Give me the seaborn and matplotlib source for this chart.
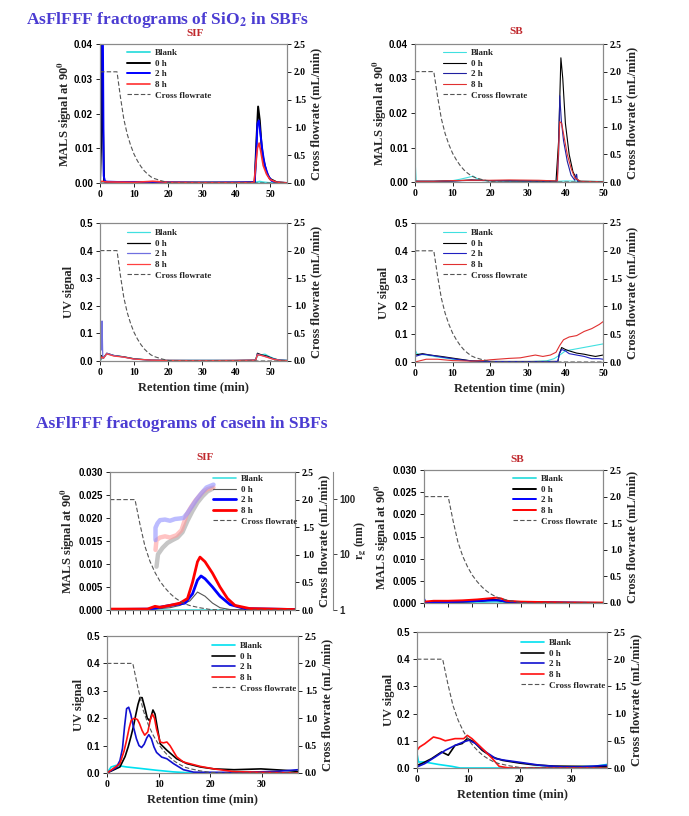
import numpy as np
import pandas as pd
import seaborn as sns
import matplotlib.pyplot as plt
import matplotlib.ticker as mtick

sns.set_style("ticks")
plt.rcParams["font.family"] = ["Liberation Serif", "DejaVu Serif"]
plt.rcParams["font.weight"] = "bold"
plt.rcParams["axes.labelweight"] = "bold"
plt.rcParams["mathtext.fontset"] = "stix"

W, H = 689, 816

# cross flow programme (mL/min), shared by all panels
flow_t = [0, 5, 6, 7, 8, 9, 10, 11, 12, 13, 14, 15, 16, 18, 20, 22, 60]
flow_y = [2.0, 2.0, 1.55, 1.15, 0.88, 0.68, 0.52, 0.40, 0.30, 0.22, 0.16, 0.11, 0.08, 0.04, 0.01, 0.0, 0.0]

# SiO2 in SIF, MALS
sio2_sif_mals_blank_t = [0, 1, 45, 46, 47, 48, 50, 55]
sio2_sif_mals_blank = [0, 0.0002, 0.0001, 0.0002, 0.0004, 0.0002, 0, 0]
sio2_sif_mals_0h_t = [0, 0.3, 0.5, 0.8, 1.2, 2, 10, 20, 30, 40, 45.5, 46, 46.5, 47, 47.5, 48, 49, 50, 52, 55]
sio2_sif_mals_0h = [0, 0.01, 0.045, 0.02, 0.0005, 0.0003, 0.0002, 0.0001, 0.0001, 0.0001, 0.0002, 0.012, 0.022,
                    0.018, 0.011, 0.007, 0.003, 0.0012, 0.0002, 0]
sio2_sif_mals_2h_t = [0, 0.3, 0.5, 0.8, 1.1, 1.5, 5, 14, 17, 20, 30, 45.5, 46, 46.3, 46.7, 47.2, 47.8, 48.5, 49.5,
                      50.5, 52, 55]
sio2_sif_mals_2h = [0, 0.05, 0.05, 0.05, 0.002, 0.0004, 0.0003, 0.0003, 0.0003, 0.0002, 0.0001, 0.0002, 0.009,
                    0.017, 0.018, 0.014, 0.009, 0.005, 0.002, 0.0006, 0.0001, 0]
sio2_sif_mals_8h_t = [0, 0.5, 1, 2, 10, 14, 15.5, 17, 20, 30, 45.3, 45.6, 46.3, 46.8, 47.3, 48, 49, 50, 52, 55]
sio2_sif_mals_8h = [0, 0.0005, 0.0004, 0.0003, 0.0002, 0.0004, 0.0005, 0.0004, 0.0002, 0.0001, 0.0001, 0.003,
                    0.01, 0.0115, 0.009, 0.005, 0.0025, 0.001, 0.0002, 0]

# SiO2 in SB, MALS
sio2_sb_mals_blank_t = [0, 0.1, 0.3, 1, 5, 10, 12, 14, 15.5, 16.5, 18, 25, 35, 38, 40, 45, 50]
sio2_sb_mals_blank = [0.005, 0.005, 0.0003, 0.0002, 0.0002, 0.0004, 0.0008, 0.0013, 0.0017, 0.001, 0.0004,
                      0.0002, 0.0002, 0.0002, 0.0003, 0.0002, 0.0002]
sio2_sb_mals_0h_t = [0, 5, 10, 15, 20, 30, 37.5, 38.2, 38.8, 39.3, 40, 41, 42, 43, 44, 50]
sio2_sb_mals_0h = [0.0002, 0.0002, 0.0003, 0.0006, 0.0004, 0.0003, 0.0002, 0.012, 0.036, 0.03, 0.017, 0.008,
                   0.003, 0.0008, 0.0002, 0.0001]
sio2_sb_mals_2h_t = [0, 5, 10, 15, 20, 30, 37.8, 38.2, 38.5, 38.9, 39.5, 40.5, 41.5, 42.5, 42.9, 43, 43.2, 44, 50]
sio2_sb_mals_2h = [0.0002, 0.0002, 0.0003, 0.0005, 0.0004, 0.0003, 0.0002, 0.008, 0.025, 0.018, 0.012, 0.006,
                   0.002, 0.0005, 0.0022, 0.0022, 0.0002, 0.0001, 0.0001]
sio2_sb_mals_8h_t = [0, 5, 10, 15, 20, 25, 33, 37.9, 38, 38.5, 39, 39.5, 40.5, 41.5, 42.5, 44, 50]
sio2_sb_mals_8h = [0.0002, 0.0002, 0.0004, 0.0005, 0.0005, 0.0006, 0.0005, 0.0003, 0.005, 0.0175, 0.017, 0.014,
                   0.008, 0.004, 0.0012, 0.0002, 0.0001]

# SiO2 in SIF, UV
sio2_sif_uv_blank_t = [0, 1, 2, 4, 7, 10, 15, 20, 30, 40, 45.5, 46.5, 48.5, 50, 52, 55]
sio2_sif_uv_blank = [0, 0.015, 0.025, 0.02, 0.015, 0.008, 0.003, 0.002, 0.002, 0.002, 0.003, 0.02, 0.025, 0.015,
                     0.005, 0.002]
sio2_sif_uv_0h_t = [0, 0.5, 1, 2, 4, 7, 10, 15, 20, 30, 40, 45.8, 46.3, 47.5, 49, 51, 53, 55]
sio2_sif_uv_0h = [0, 0.02, 0.01, 0.028, 0.02, 0.015, 0.008, 0.003, 0.002, 0.002, 0.002, 0.003, 0.028, 0.022,
                  0.018, 0.008, 0.003, 0.002]
sio2_sif_uv_2h_t = [0, 0.3, 0.45, 0.6, 0.8, 1, 2, 4, 7, 10, 15, 20, 30, 40, 45.8, 46.3, 47.5, 49, 51, 53, 55]
sio2_sif_uv_2h = [0, 0.09, 0.04, 0.145, 0.02, 0.01, 0.028, 0.02, 0.014, 0.007, 0.003, 0.002, 0.002, 0.002, 0.003,
                  0.025, 0.02, 0.015, 0.007, 0.003, 0.002]
sio2_sif_uv_8h_t = [0, 0.5, 1, 2, 4, 7, 10, 15, 20, 30, 40, 45.8, 46.3, 47.5, 49, 51, 53, 55]
sio2_sif_uv_8h = [0, 0.015, 0.01, 0.026, 0.018, 0.014, 0.007, 0.003, 0.002, 0.001, 0.002, 0.003, 0.022, 0.02,
                  0.014, 0.006, 0.002, 0.001]

# SiO2 in SB, UV
sio2_sb_uv_blank_t = [0, 0.5, 1, 3, 6, 10, 15, 20, 30, 35, 37, 38.5, 40, 44, 48, 50]
sio2_sb_uv_blank = [0.045, 0.03, 0.028, 0.025, 0.018, 0.01, 0.004, 0.001, 0.001, 0.004, 0.012, 0.025, 0.04, 0.05,
                    0.06, 0.065]
sio2_sb_uv_0h_t = [0, 2, 4, 7, 10, 12, 15, 20, 30, 38, 38.4, 39, 40, 41, 43, 45, 46, 48, 50]
sio2_sb_uv_0h = [0.025, 0.03, 0.025, 0.02, 0.014, 0.01, 0.004, 0.002, 0.002, 0.002, 0.03, 0.052, 0.045, 0.04,
                 0.032, 0.028, 0.025, 0.02, 0.025]
sio2_sb_uv_2h_t = [0, 2, 4, 7, 10, 12, 15, 20, 30, 38, 38.4, 39, 40, 41, 43, 45, 47, 49, 50]
sio2_sb_uv_2h = [0.02, 0.028, 0.025, 0.018, 0.012, 0.008, 0.004, 0.002, 0.001, 0.002, 0.03, 0.045, 0.04, 0.03,
                 0.025, 0.02, 0.012, 0.012, 0.01]
sio2_sb_uv_8h_t = [0, 3, 6, 10, 15, 18, 20, 22, 25, 28, 30, 32, 34, 36, 37.5, 38.5, 39.5, 41, 43, 45, 47, 49, 50]
sio2_sb_uv_8h = [0, 0.01, 0.01, 0.005, 0.003, 0.005, 0.008, 0.01, 0.013, 0.015, 0.02, 0.025, 0.02, 0.025, 0.035,
                 0.06, 0.08, 0.09, 0.095, 0.11, 0.12, 0.135, 0.145]

# casein in SIF, MALS
cas_sif_mals_blank_t = [0, 10, 20, 30, 37]
cas_sif_mals_blank = [0.0001, 0.0001, 0.0001, 0.0001, 0.0001]
cas_sif_mals_0h_t = [0, 9, 12, 14, 16, 17.5, 19, 20.5, 22, 24, 37]
cas_sif_mals_0h = [0.0001, 0.0002, 0.0005, 0.001, 0.002, 0.0039, 0.003, 0.0015, 0.0005, 0.0001, 0]
cas_sif_mals_2h_t = [0, 8, 9.5, 12, 15, 16.5, 17.5, 18.2, 19, 20.5, 22, 24, 27, 37]
cas_sif_mals_2h = [0.0001, 0.0002, 0.0005, 0.001, 0.0015, 0.0035, 0.0065, 0.0074, 0.0068, 0.005, 0.003, 0.0012,
                   0.0003, 0.0001]
cas_sif_mals_8h_t = [0, 7.5, 9, 10, 12, 14, 15.5, 16.5, 17.5, 18, 19, 20.5, 22, 23.5, 25, 28, 37]
cas_sif_mals_8h = [0.0002, 0.0002, 0.0008, 0.0006, 0.001, 0.0015, 0.0025, 0.006, 0.0105, 0.0115, 0.0105, 0.008,
                   0.005, 0.0025, 0.001, 0.0003, 0.0001]

# radius of gyration (nm) in SIF
rg_0h_t = [9.3, 9.6, 10.5, 11.5, 12.5, 13.5, 14.5, 15.5, 16.5, 17.5, 18.5, 19.5, 20.5]
rg_0h = [6, 10, 13, 16, 18, 20, 25, 40, 60, 85, 110, 135, 150]
rg_2h_t = [9.1, 9.1, 9.5, 10, 11, 12, 13, 14, 14.7, 15.5, 16.5, 17.3, 18.3, 19.3, 20.7]
rg_2h = [18, 30, 36, 41, 42, 40, 43, 44, 45, 55, 75, 96, 125, 158, 178]
rg_8h_t = [9.1, 9.3, 10, 11, 12, 13.3, 14.3, 15.3, 16.2, 17, 18, 18.7, 19.5, 20.7]
rg_8h = [12, 18, 20, 21, 20, 22, 27, 51, 70, 90, 115, 135, 148, 158]

# casein in SB, MALS
cas_sb_mals_blank_t = [0, 0.2, 2, 8, 12, 15, 17, 20, 37]
cas_sb_mals_blank = [0.0008, 0.0001, 0.0001, 0.0002, 0.0002, 0.0003, 0.0001, 0, 0]
cas_sb_mals_0h_t = [0, 3, 8, 12, 14, 15.5, 17, 20, 25, 37]
cas_sb_mals_0h = [0.0002, 0.0002, 0.0003, 0.0005, 0.0008, 0.0006, 0.0003, 0.0002, 0.0001, 0]
cas_sb_mals_2h_t = [0, 0.3, 1, 5, 10, 14, 15.5, 17, 20, 30, 37]
cas_sb_mals_2h = [0.001, 0.0002, 0.0001, 0.0002, 0.0004, 0.0006, 0.0006, 0.0003, 0.0002, 0.0001, 0]
cas_sb_mals_8h_t = [0, 2, 5, 8, 11, 13, 15, 16, 17, 20, 25, 30, 37]
cas_sb_mals_8h = [0.0003, 0.0005, 0.0005, 0.0006, 0.0008, 0.001, 0.0012, 0.001, 0.0005, 0.0003, 0.0002, 0.0001,
                  0.0001]

# casein in SIF, UV
cas_sif_uv_blank_t = [0, 0.8, 1.8, 3.8, 6.3, 9.6, 12.9, 16.5, 37]
cas_sif_uv_blank = [0, 0.022, 0.028, 0.022, 0.017, 0.01, 0.004, 0, 0]
cas_sif_uv_0h_t = [0, 2.5, 3.5, 4.1, 4.6, 5.1, 5.6, 6.0, 6.4, 6.8, 7.3, 7.8, 8.3, 8.9, 9.3, 9.8, 10.3, 11.6, 13.5,
                   15.5, 18.1, 20.7, 24.6, 29.8, 34.3, 36.9]
cas_sif_uv_0h = [0, 0.022, 0.06, 0.095, 0.13, 0.168, 0.215, 0.25, 0.275, 0.275, 0.24, 0.2, 0.19, 0.23, 0.215,
                 0.16, 0.107, 0.083, 0.052, 0.034, 0.022, 0.015, 0.012, 0.015, 0.01, 0.006]
cas_sif_uv_2h_t = [0, 1.8, 2.5, 3.0, 3.4, 3.8, 4.2, 4.6, 5.1, 5.7, 6.2, 6.7, 7.2, 7.7, 8.1, 8.6, 9.1, 9.6, 10.6, 11.6,
                   12.9, 14.8, 16.8, 25, 33, 37]
cas_sif_uv_2h = [0, 0.02, 0.045, 0.09, 0.17, 0.235, 0.24, 0.215, 0.17, 0.125, 0.1, 0.093, 0.105, 0.128, 0.14,
                 0.125, 0.095, 0.075, 0.058, 0.052, 0.034, 0.012, 0.003, 0.002, 0.006, 0.012]
cas_sif_uv_8h_t = [0, 2.5, 3.3, 3.8, 4.3, 4.7, 5.3, 5.9, 6.3, 6.8, 7.3, 7.9, 8.4, 8.8, 9.2, 9.6, 10.3, 10.9, 11.6,
                   12.2, 13.5, 14.8, 18.1, 20.7, 24.6, 31, 37]
cas_sif_uv_8h = [0, 0.034, 0.08, 0.12, 0.165, 0.193, 0.2, 0.195, 0.18, 0.155, 0.138, 0.15, 0.195, 0.215, 0.2,
                 0.16, 0.113, 0.11, 0.113, 0.1, 0.059, 0.04, 0.024, 0.015, 0.005, 0.002, 0]

# casein in SB, UV
cas_sb_uv_blank_t = [0, 0.3, 1.5, 4.2, 6.8, 8.4, 20, 34.5, 37]
cas_sb_uv_blank = [0.053, 0.022, 0.022, 0.013, 0.006, 0, 0, 0.006, 0.013]
cas_sb_uv_0h_t = [0, 0.9, 2.8, 4.8, 6.1, 7.4, 8.8, 9.8, 11.1, 12.7, 14.7, 16.7, 20, 22.6, 26.6, 31.8, 37]
cas_sb_uv_0h = [0.01, 0.016, 0.034, 0.059, 0.047, 0.083, 0.09, 0.108, 0.096, 0.065, 0.04, 0.028, 0.018, 0.012,
                0.007, 0.006, 0.004]
cas_sb_uv_2h_t = [0, 1.5, 3.5, 5.5, 7.4, 9.1, 10.1, 11.4, 13.4, 15.4, 17.3, 20, 24, 28.5, 31.8, 37]
cas_sb_uv_2h = [0.004, 0.016, 0.04, 0.065, 0.083, 0.096, 0.102, 0.09, 0.059, 0.034, 0.028, 0.021, 0.01, 0.004,
                0.004, 0.01]
cas_sb_uv_8h_t = [0, 0.5, 1.5, 3.2, 4.5, 5.5, 7.4, 9.1, 9.8, 10.7, 12.1, 13.4, 14.7, 16, 18, 37]
cas_sb_uv_8h = [0.065, 0.077, 0.089, 0.114, 0.108, 0.1, 0.108, 0.108, 0.12, 0.108, 0.083, 0.059, 0.034, 0.006, 0,
                0]

labels = ["Blank", "0 h", "2 h", "8 h"]
GRID = "#8a8a8a"


def rect(l, r, t, b):
    return [l / W, 1 - b / H, (r - l) / W, (b - t) / H]


def panel(pos, curves, colors, lws, xmax, ymax, ystep, yfmt, ylabel, leg_xy, lpad=2, xlabels=True, xminor=None):
    ax = fig.add_axes(rect(*pos))
    for (t, y), c, lw in zip(curves, colors, lws):
        sns.lineplot(x=t, y=y, ax=ax, color=c, lw=lw, estimator=None, sort=False)
    handles = list(ax.lines)
    ax2 = ax.twinx()
    sns.lineplot(x=flow_t, y=flow_y, ax=ax2, color="#555555", lw=0.8, ls=(0, (4, 2)), estimator=None, sort=False)
    handles.append(ax2.lines[-1])

    ax.set_xlim(0, xmax)
    ax.set_ylim(0, ymax)
    ax.yaxis.set_major_locator(mtick.MultipleLocator(ystep))
    ax.yaxis.set_major_formatter(mtick.FormatStrFormatter(yfmt))
    ax2.set_ylim(0, 2.5)
    ax2.yaxis.set_major_locator(mtick.MultipleLocator(0.5))
    ax2.yaxis.set_major_formatter(mtick.FormatStrFormatter("%.1f"))
    ax.xaxis.set_major_locator(mtick.MultipleLocator(10))
    if not xlabels:
        ax.xaxis.set_major_locator(mtick.MultipleLocator(xminor))
        ax.set_xticklabels([])
        ax.tick_params(axis="x", length=2)
    ax.set_ylabel(ylabel, fontsize=9, labelpad=lpad)
    ax2.set_ylabel("Cross flowrate (mL/min)", fontsize=9, labelpad=3)
    for a in (ax, ax2):
        a.tick_params(direction="out", length=3, width=0.6, labelsize=7, pad=2, colors="black")
        for s in a.spines.values():
            s.set_color(GRID)
            s.set_linewidth(0.8)
    ax.tick_params(axis="y", labelfontfamily="Liberation Sans")
    ax.set_xlabel("")

    ax2.legend(handles, labels + ["Cross flowrate"], loc="upper left",
               bbox_to_anchor=(leg_xy[0] / W, 1 - leg_xy[1] / H), bbox_transform=fig.transFigure,
               frameon=False, fontsize=6.5, handlelength=2.6, handletextpad=0.45, labelspacing=0.25,
               borderpad=0, borderaxespad=0)
    return ax, ax2


fig = plt.figure(figsize=(W / 100, H / 100), dpi=100)

mals_lbl = r"MALS signal at 90$^{\mathbf{0}}$"

# SiO2 panels
panel((100, 287, 44, 183),
      [(sio2_sif_mals_blank_t, sio2_sif_mals_blank), (sio2_sif_mals_0h_t, sio2_sif_mals_0h),
       (sio2_sif_mals_2h_t, sio2_sif_mals_2h), (sio2_sif_mals_8h_t, sio2_sif_mals_8h)],
      ["#40E0E0", "black", "#0000FF", "#FF3030"], [1.4, 1.4, 1.4, 1.2],
      55, 0.04, 0.01, "%.2f", mals_lbl, (127, 49), lpad=0)
panel((415, 603, 44, 182),
      [(sio2_sb_mals_blank_t, sio2_sb_mals_blank), (sio2_sb_mals_0h_t, sio2_sb_mals_0h),
       (sio2_sb_mals_2h_t, sio2_sb_mals_2h), (sio2_sb_mals_8h_t, sio2_sb_mals_8h)],
      ["#40E0E0", "black", "#2020A0", "#E03030"], [0.8, 0.8, 0.8, 0.8],
      50, 0.04, 0.01, "%.2f", mals_lbl, (443, 49), lpad=0)
ax3, _ = panel((100, 287, 223, 361),
               [(sio2_sif_uv_blank_t, sio2_sif_uv_blank), (sio2_sif_uv_0h_t, sio2_sif_uv_0h),
                (sio2_sif_uv_2h_t, sio2_sif_uv_2h), (sio2_sif_uv_8h_t, sio2_sif_uv_8h)],
               ["#40E0E0", "black", "#7070E0", "#FF4040"], [0.9, 0.9, 0.9, 0.9],
               55, 0.5, 0.1, "%.1f", "UV signal", (127, 229), lpad=3)
ax4, _ = panel((415, 603, 223, 362),
               [(sio2_sb_uv_blank_t, sio2_sb_uv_blank), (sio2_sb_uv_0h_t, sio2_sb_uv_0h),
                (sio2_sb_uv_2h_t, sio2_sb_uv_2h), (sio2_sb_uv_8h_t, sio2_sb_uv_8h)],
               ["#40E0E0", "black", "#2020C0", "#E03030"], [0.8, 0.8, 0.8, 0.8],
               50, 0.5, 0.1, "%.1f", "UV signal", (443, 229), lpad=3)
for a in (ax3, ax4):
    a.set_xlabel("Retention time (min)", fontsize=9, labelpad=3)

# casein panels
ax5, ax5b = panel((110, 295, 472, 610),
                  [(cas_sif_mals_blank_t, cas_sif_mals_blank), (cas_sif_mals_0h_t, cas_sif_mals_0h),
                   (cas_sif_mals_2h_t, cas_sif_mals_2h), (cas_sif_mals_8h_t, cas_sif_mals_8h)],
                  ["#40E0E0", "#555555", "#0000FF", "#FF0000"], [1.2, 0.8, 2.0, 2.0],
                  37, 0.03, 0.005, "%.3f", mals_lbl, (213, 475), lpad=1, xlabels=False, xminor=1.5)
ax5c = ax5.twinx()
ax5c.spines["right"].set_position(("axes", (333 - 110) / 185))
for (t, y), c in zip([(rg_0h_t, rg_0h), (rg_8h_t, rg_8h), (rg_2h_t, rg_2h)], ["#A0A0A0", "#FF9C9C", "#9090FF"]):
    sns.lineplot(x=t, y=y, ax=ax5c, color=c, lw=3.2, alpha=0.6, estimator=None, sort=False)
ax5c.set_yscale("log")
ax5c.set_ylim(1, 300)
ax5c.set_yticks([1, 10, 100])
ax5c.yaxis.set_major_formatter(mtick.FormatStrFormatter("%d"))
ax5c.yaxis.set_minor_locator(mtick.NullLocator())
ax5c.tick_params(direction="out", length=3, width=0.6, labelsize=7, pad=1.5, labelfontfamily="Liberation Sans")
for k in ("top", "bottom", "left"):
    ax5c.spines[k].set_visible(False)
ax5c.spines["right"].set_color(GRID)
ax5c.set_ylabel(r"r$_{\mathbf{g}}$ (nm)", fontsize=8.5, labelpad=-2)
ax5c.set_xlim(0, 37)
ax5b.set_zorder(ax5c.get_zorder() + 1)

panel((424, 603, 470, 603),
      [(cas_sb_mals_blank_t, cas_sb_mals_blank), (cas_sb_mals_0h_t, cas_sb_mals_0h),
       (cas_sb_mals_2h_t, cas_sb_mals_2h), (cas_sb_mals_8h_t, cas_sb_mals_8h)],
      ["#40E0E0", "black", "#0000FF", "#FF0000"], [1.4, 1.4, 1.4, 1.4],
      37, 0.03, 0.005, "%.3f", mals_lbl, (513, 475), lpad=1, xlabels=False, xminor=5)
ax7, _ = panel((107, 298, 636, 773),
               [(cas_sif_uv_blank_t, cas_sif_uv_blank), (cas_sif_uv_0h_t, cas_sif_uv_0h),
                (cas_sif_uv_2h_t, cas_sif_uv_2h), (cas_sif_uv_8h_t, cas_sif_uv_8h)],
               ["#00E0F0", "black", "#1010D0", "#FF1010"], [1.2, 1.2, 1.2, 1.2],
               37, 0.5, 0.1, "%.1f", "UV signal", (212, 642), lpad=1)
ax8, _ = panel((417, 607, 632, 768),
               [(cas_sb_uv_blank_t, cas_sb_uv_blank), (cas_sb_uv_0h_t, cas_sb_uv_0h),
                (cas_sb_uv_2h_t, cas_sb_uv_2h), (cas_sb_uv_8h_t, cas_sb_uv_8h)],
               ["#00E0F0", "black", "#1010D0", "#FF1010"], [1.2, 1.2, 1.2, 1.2],
               37, 0.5, 0.1, "%.1f", "UV signal", (521, 639), lpad=1)
for a in (ax7, ax8):
    a.set_xlabel("Retention time (min)", fontsize=9, labelpad=3)

# titles
fig.text(168 / W, 1 - 20 / H, r"AsFlFFF fractograms of SiO$_{\mathbf{2}}$ in SBFs", ha="center", va="center",
         fontsize=12.5, color="#4B3CD2", weight="bold")
fig.text(182 / W, 1 - 424 / H, "AsFlFFF fractograms of casein in SBFs", ha="center", va="center",
         fontsize=12.5, color="#4B3CD2", weight="bold")
for x, y, s in [(195, 34, "SIF"), (516, 32, "SB"), (205, 457, "SIF"), (517, 459, "SB")]:
    fig.text(x / W, 1 - y / H, s, ha="center", va="center", fontsize=8, color="#C0282D", weight="bold")

fig.savefig("out.png", dpi=100)
